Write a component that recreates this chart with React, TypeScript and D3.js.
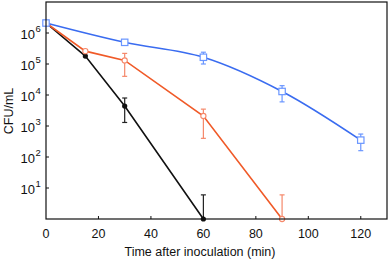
import React from "react";
import * as d3 from "d3";

const blueT = [0, 30, 60, 90, 120];
const blueV = [2.1e6, 5.0e5, 1.65e5, 1.3e4, 350];
const blueLo = [2.1e6, 4.3e5, 1.0e5, 6.0e3, 1.6e2];
const blueHi = [2.1e6, 6.0e5, 2.4e5, 2.0e4, 5.5e2];
const orangeT = [0, 15, 30, 60, 90];
const orangeV = [2.1e6, 2.6e5, 1.3e5, 2.1e3, 1];
const orangeLo = [2.1e6, 2.6e5, 4.0e4, 4.0e2, 1];
const orangeHi = [2.1e6, 2.6e5, 2.2e5, 3.5e3, 6];
const blackT = [0, 15, 30, 60];
const blackV = [2.1e6, 1.8e5, 4.4e3, 1];
const blackLo = [2.1e6, 1.8e5, 1.3e3, 1];
const blackHi = [2.1e6, 1.8e5, 8.0e3, 6];
const xTicks = [0, 20, 40, 60, 80, 100, 120];
const yExps = [1, 2, 3, 4, 5, 6];

export default function App() {
  const W = 392, H = 264;
  const left = 46, right = 387, top = 2, bottom = 219;
  const x = d3.scaleLinear().domain([0, 130]).range([left, right]);
  const y = d3.scaleLog().domain([1, 1e7]).range([bottom, top]);
  const font = "'Liberation Sans', Arial, sans-serif";
  const blueC = "#3a6cf0", blueL = "#6a96ff";
  const orC = "#f05a28", orL = "#f5886a";
  const line = (ts: number[], vs: number[], curve: any) =>
    d3.line<number>().x((_, i) => x(ts[i])).y((v) => y(v)).curve(curve)(vs) || "";

  const errBars = (ts: number[], lo: number[], hi: number[], c: string, k: string) =>
    ts.map((t, i) => {
      if (lo[i] === hi[i]) return null;
      const cx = x(t);
      return (
        <g key={k + i} stroke={c} strokeWidth={1.2}>
          <line x1={cx} x2={cx} y1={y(lo[i])} y2={y(hi[i])} />
          <line x1={cx - 2.5} x2={cx + 2.5} y1={y(hi[i])} y2={y(hi[i])} />
          {lo[i] !== 1 && <line x1={cx - 2.5} x2={cx + 2.5} y1={y(lo[i])} y2={y(lo[i])} />}
        </g>
      );
    });

  return (
    <svg width={W} height={H} style={{ position: "absolute", left: 0, top: 0, background: "#fff" }} fontFamily={font}>
      {errBars(blackT, blackLo, blackHi, "#222", "k")}
      {errBars(orangeT, orangeLo, orangeHi, orL, "o")}
      {errBars(blueT, blueLo, blueHi, blueL, "b")}
      <path d={line(blackT, blackV, d3.curveLinear)} fill="none" stroke="#111" strokeWidth={1.6} />
      <path d={line(orangeT, orangeV, d3.curveLinear)} fill="none" stroke={orC} strokeWidth={1.6} />
      <path d={line(blueT, blueV, d3.curveCatmullRom.alpha(0.5))} fill="none" stroke={blueC} strokeWidth={1.6} />
      {blackT.map((t, i) => (
        <circle key={"kc" + i} cx={x(t)} cy={y(blackV[i])} r={2.6} fill="#111" />
      ))}
      {orangeT.map((t, i) => (
        <circle key={"oc" + i} cx={x(t)} cy={y(orangeV[i])} r={2.6} fill="#fff" stroke={orL} strokeWidth={1.1} />
      ))}
      {blueT.map((t, i) => (
        <rect key={"br" + i} x={x(t) - 3.2} y={y(blueV[i]) - 3.2} width={6.4} height={6.4} fill="#fff" stroke={blueL} strokeWidth={1.2} />
      ))}
      <rect x={left} y={top} width={right - left} height={bottom - top} fill="none" stroke="#111" strokeWidth={1.2} />
      {xTicks.map((t) => (
        <g key={"xt" + t}>
          {t > 0 && <line x1={x(t)} x2={x(t)} y1={bottom} y2={bottom - 3} stroke="#111" strokeWidth={1} />}
          <text x={x(t)} y={238} textAnchor="middle" fontSize={12.5} fill="#111">{t}</text>
        </g>
      ))}
      {yExps.map((e) => (
        <g key={"yt" + e}>
          <line x1={left} x2={left + 3} y1={y(Math.pow(10, e))} y2={y(Math.pow(10, e))} stroke="#111" strokeWidth={1} />
          <text x={35} y={y(Math.pow(10, e)) + 6} textAnchor="end" fontSize={13} fill="#111">10</text>
          <text x={35.5} y={y(Math.pow(10, e)) - 1} textAnchor="start" fontSize={9.5} fill="#111">{e}</text>
        </g>
      ))}
      <text x={200} y={256} textAnchor="middle" fontSize={12.5} fill="#111">Time after inoculation (min)</text>
      <text transform="translate(13,111) rotate(-90)" textAnchor="middle" fontSize={12.5} fill="#111">CFU/mL</text>
    </svg>
  );
}
